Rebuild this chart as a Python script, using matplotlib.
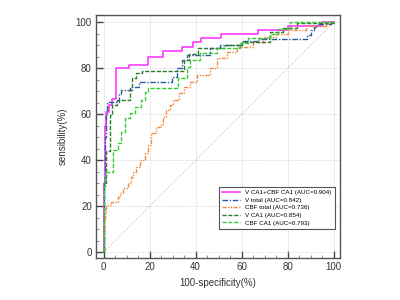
import matplotlib.pyplot as plt
from matplotlib.ticker import MultipleLocator

# ROC curves: tpr jumps to tpr[i] at fpr[i] (percent)
comb_fpr = [0, 0, 0.5, 1.2, 2.5, 3.5, 5.5, 11, 19.5, 25.8, 34, 39, 42.3, 51, 67, 80, 95, 100]
comb_tpr = [0, 30, 55, 61, 64, 66.5, 80, 81.4, 84.8, 87.5, 89.1, 91.6, 93, 94.9, 96.6, 98.4, 100, 100]

vtot_fpr = [0, 0, 0.5, 1.0, 1.7, 6.5, 7.6, 11.4, 15.2, 29.8, 32, 34, 36.2, 46.3, 50.7, 60, 67.7,
            88.3, 90, 91.5, 93, 99, 100]
vtot_tpr = [0, 30, 50, 60, 65.5, 68.7, 70.6, 72, 73.9, 76.3, 80, 83.6, 85.8, 88.7, 90.1, 91.9, 92.7,
            94.5, 96.7, 98.1, 99.5, 100, 100]

cbft_fpr = [0, 0, 0.5, 1.1, 3.3, 6.3, 7.0, 8.6, 10.5, 11.8, 12.6, 14.0, 15.7, 18.0, 19.3, 20.8,
            23.0, 25.1, 25.9, 27.3, 28.8, 30.2, 33, 35, 37.6, 40.5, 46.3, 49.2, 53.6, 58, 65.1,
            69.5, 75, 80, 88, 97, 100]
cbft_tpr = [0, 15, 17.7, 20.6, 22.0, 24.2, 25.6, 27.8, 30.0, 32.9, 35.0, 37.2, 40.0, 43.0, 46.7, 51.7,
            54.5, 56.0, 59.0, 62.0, 64.0, 66.2, 69.1, 72, 74.2, 77.1, 80, 84.3, 87.2, 89.4, 91.6,
            93.7, 95.1, 96.6, 98.5, 100, 100]

vca1_fpr = [0, 0, 1.0, 2.7, 3.5, 6.0, 11.5, 12.5, 14.0, 16.6, 35.0, 37.0, 41.0, 53.0, 60.0,
            72.4, 78.2, 84.0, 100]
vca1_tpr = [0, 30, 44, 59.7, 64, 66.3, 70.6, 75.6, 77.8, 78.8, 83.6, 86.3, 88.7, 90.1, 91.6,
            95.9, 97.4, 99.6, 100]

cbfca1_fpr = [0, 0, 0.5, 1.2, 4.1, 6.3, 7.5, 9.2, 11.4, 13.6, 16.3, 18.0, 19.5, 32.5, 36.2, 37.6,
              42.0, 49.2, 59.4, 63, 72.4, 76, 81, 85, 100]
cbfca1_tpr = [0, 29, 33, 35, 44.5, 47.4, 52.4, 58.3, 60.4, 63.3, 66.2, 69.8, 71.3, 75.7, 80.7, 83.6,
              86.5, 88.7, 90.9, 93.0, 95.1, 97.3, 100, 100, 100]

labels = ['V CA1+CBF CA1 (AUC=0.904)', 'V total (AUC=0.842)', 'CBF total (AUC=0.736)',
          'V CA1 (AUC=0.854)', 'CBF CA1 (AUC=0.793)']

plt.rcParams['font.family'] = ['Liberation Sans', 'DejaVu Sans']

fig = plt.figure(figsize=(4, 3), dpi=100)
ax = fig.add_axes([0.24, 0.14, 0.61, 0.81])

ax.plot([0, 100], [0, 100], color='#e69a8c', lw=0.6, ls=(0, (1, 1.5)))

ax.plot(comb_fpr, comb_tpr, drawstyle='steps-post', color='#ff2bff', lw=1.1, label=labels[0])
ax.plot(vtot_fpr, vtot_tpr, drawstyle='steps-post', color='#2a5a9e', lw=1.0,
        ls=(0, (4, 1.2, 1, 1.2)), label=labels[1])
ax.plot(cbft_fpr, cbft_tpr, drawstyle='steps-post', color='#f58a3e', lw=1.0,
        ls=(0, (3, 1, 1, 1, 1, 1)), label=labels[2])
ax.plot(vca1_fpr, vca1_tpr, drawstyle='steps-post', color='#2b7a2b', lw=1.0,
        ls=(0, (3, 1.2)), label=labels[3])
ax.plot(cbfca1_fpr, cbfca1_tpr, drawstyle='steps-post', color='#33cc33', lw=1.0,
        ls=(0, (3, 1.2)), label=labels[4])

ax.set_xlim(-3.3, 102.8)
ax.set_ylim(-2.5, 103.2)
ax.xaxis.set_major_locator(MultipleLocator(20))
ax.yaxis.set_major_locator(MultipleLocator(20))
ax.xaxis.set_minor_locator(MultipleLocator(5))
ax.yaxis.set_minor_locator(MultipleLocator(5))
ax.tick_params(which='major', direction='in', length=5, width=1, color='#444444',
               labelsize=7, labelcolor='#333333', pad=3)
ax.tick_params(which='minor', direction='in', length=2.5, width=0.6, color='#777777')
ax.grid(which='major', color='#d4d4d4', lw=0.6, ls=(0, (1, 1)))
for sp in ax.spines.values():
    sp.set_color('#555555')
    sp.set_linewidth(1.0)

ax.set_xlabel('100-specificity(%)', fontsize=7, color='#333333', labelpad=4)
ax.set_ylabel('sensibility(%)', fontsize=7, color='#333333', labelpad=6)

leg = ax.legend(loc='lower right', bbox_to_anchor=(0.992, 0.108), fontsize=4.5,
                fancybox=False, edgecolor='#555555', framealpha=1, handlelength=3,
                labelspacing=0.35, borderpad=0.5, handletextpad=0.8)
leg.get_frame().set_linewidth(0.8)

fig.savefig('out.png', dpi=100)
